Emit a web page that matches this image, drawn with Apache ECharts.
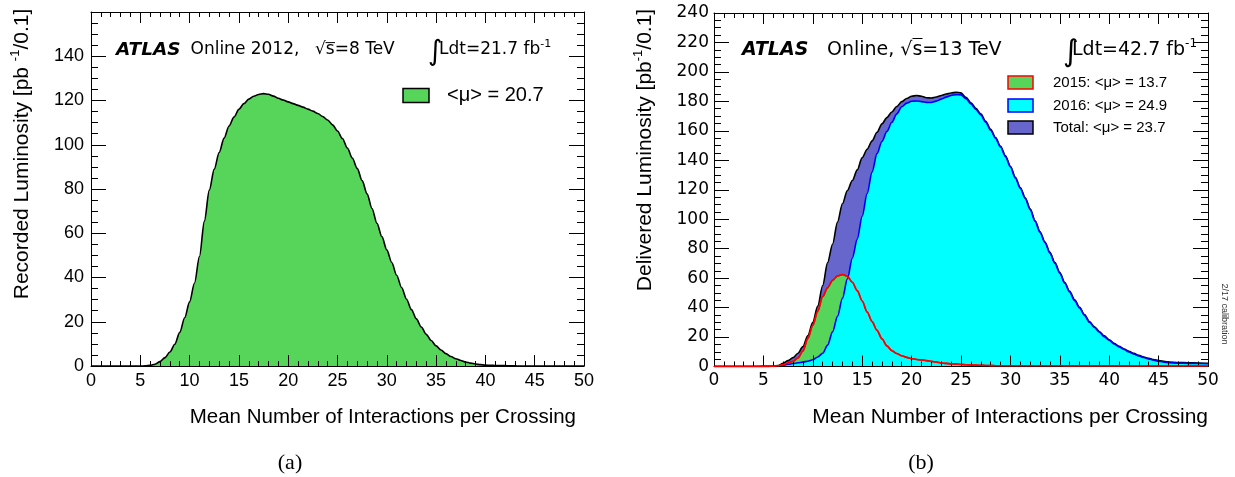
<!DOCTYPE html>
<html>
<head>
<meta charset="utf-8">
<script src="https://cdn.jsdelivr.net/npm/echarts@6/dist/echarts.min.js"></script>
<style>
  html, body { margin: 0; padding: 0; background: #fff; }
  #chart { width: 1235px; height: 477px; }
</style>
</head>
<body>
<div id="chart"></div>
<script>
// Mean number of interactions per crossing (bin centres shared by both panels)
const MU = [0, 1, 2, 3, 4,
  5, 5.5, 6, 6.5, 7, 7.5, 8, 8.5, 9, 9.5, 10, 10.5, 11, 11.5, 12, 12.5, 13, 13.5, 14, 14.5,
  15, 15.5, 16, 16.5, 17, 17.5, 18, 18.5, 19, 19.5, 20, 20.5, 21, 21.5, 22, 22.5, 23, 23.5, 24, 24.5,
  25, 25.5, 26, 26.5, 27, 27.5, 28, 28.5, 29, 29.5, 30, 30.5, 31, 31.5, 32, 32.5, 33, 33.5, 34, 34.5,
  35, 35.5, 36, 36.5, 37, 37.5, 38, 38.5, 39, 39.5, 40, 40.5, 41, 41.5, 42, 42.5, 43, 43.5, 44, 44.5,
  45, 46, 47, 48, 49, 50];

// (a) 2012 recorded luminosity [pb^-1 / 0.1]
const LUMI_2012 = [0, 0, 0, 0, 0,
  0, 0.05, 0.3, 0.8, 2.0, 3.8, 6.3, 9.8, 15.2, 21.8, 29.0, 37.5, 49.5, 65.5, 79.5, 89, 96.5, 103, 108.5, 112.5,
  116, 118.6, 120.6, 121.9, 122.7, 123.1, 122.8, 122, 121, 120.2, 119.4, 118.6, 117.8, 117, 116.1, 115.2, 114.1, 112.8, 111.2, 109,
  106.2, 102.8, 98.5, 94, 89.3, 83.8, 77.8, 71.2, 64.5, 58.5, 52.5, 46.8, 41, 35.5, 30.2, 25.5, 21.3, 17.6, 14.3, 11.5,
  9.1, 7.2, 5.6, 4.3, 3.3, 2.5, 1.8, 1.3, 0.9, 0.6, 0.4, 0.3, 0.25, 0.2, 0.15, 0.1, 0.05, 0, 0, 0,
  0, 0, 0, 0, 0, 0];

// (b) delivered luminosity [pb^-1 / 0.1]
const LUMI_2015 = [0, 0, 0, 0, 0,
  0.1, 0.1, 0.2, 0.5, 1.3, 2.4, 3.6, 5.8, 10.5, 19, 28, 37.5, 47.5, 53.5, 58.5, 61.5, 62.5, 61.2, 57.2, 51.5,
  44.5, 37, 30.5, 24.5, 18.8, 14, 10.8, 8.8, 7.3, 6.2, 5.3, 4.8, 4.4, 4.0, 3.5, 3.0, 2.4, 2.1, 1.8, 1.6,
  1.4, 1.2, 1.0, 0.9, 0.8, 0.7, 0.6, 0.55, 0.5, 0.5, 0.5, 0.5, 0.5, 0.5, 0.5, 0.5, 0.5, 0.5, 0.5, 0.5,
  0.5, 0.45, 0.45, 0.45, 0.4, 0.4, 0.4, 0.4, 0.4, 0.4, 0.4, 0.4, 0.4, 0.4, 0.4, 0.35, 0.35, 0.35, 0.35, 0.35,
  0.3, 0.3, 0.3, 0.3, 0.3, 0.3];

const LUMI_2016 = [0, 0, 0, 0, 0,
  0, 0, 0, 0.2, 0.8, 1.5, 2.0, 2.5, 3.0, 3.6, 4.6, 6.5, 9.0, 14.5, 23.5, 34, 46.3, 59.5, 73.5, 86.5,
  102, 117.5, 132, 144.5, 152.8, 159.5, 165.8, 171.5, 176.3, 178.8, 180.1, 180.3, 179.8, 179.3, 179.2, 180.2, 181.5, 182.9, 184, 184.6,
  184.4, 181.8, 178.3, 174.6, 170.8, 165.9, 160.4, 154.9, 149, 142.5, 135.5, 128, 121, 114.1, 106.5, 98.5, 91, 84, 77, 70,
  63.3, 56.5, 50.5, 44.7, 39.7, 34.7, 30, 26.5, 23.3, 20.3, 17.8, 15.3, 13.3, 11.5, 9.9, 8.5, 7.2, 6.1, 5.1, 4.3,
  3.6, 2.6, 2.3, 2.1, 2.0, 1.9];

const LUMI_TOTAL = [0, 0, 0, 0, 0,
  0.1, 0.1, 0.2, 0.6, 2.2, 4.0, 6.0, 9.0, 13.5, 21, 30, 41, 55, 70.5, 83, 98, 110.5, 119.5, 126.3, 133.5,
  141.8, 147.5, 153.2, 159, 164.7, 169, 172.8, 176.5, 179.8, 182, 183.5, 184, 183.5, 182.5, 182.3, 183, 184, 185, 185.7, 186.2,
  185.8, 182.7, 179.1, 175.3, 171.5, 166.5, 161, 155.4, 149.5, 143, 136, 128.5, 121.5, 114.6, 107, 99, 91.5, 84.5, 77.5, 70.5,
  63.8, 57, 51, 45.2, 40.2, 35.2, 30.5, 27, 23.8, 20.8, 18.2, 15.7, 13.7, 11.9, 10.3, 8.9, 7.6, 6.5, 5.5, 4.7,
  4.0, 3.0, 2.7, 2.5, 2.4, 2.2];

const X_TITLE = 'Mean Number of Interactions per Crossing';

const pairs = (ys) => MU.map((x, i) => [x, ys[i]]);

const SANS = '"Liberation Sans", Arial, sans-serif';
const DEJAVU = '"DejaVu Sans", sans-serif';

const GREEN = '#57d45a';
const CYAN = '#00ffff';
const PURPLE = '#6666cc';

// Frame axes are drawn above the filled histograms, ticks pointing inwards
function xAxes(grid, pos, labelFont) {
  return {
    gridIndex: grid, type: 'value', min: 0, max: 50, interval: 5, position: pos, z: 10,
    axisLine: { onZero: false, lineStyle: { color: '#000', width: 1 } },
    axisTick: { inside: true, length: 11, lineStyle: { color: '#000' } },
    minorTick: { show: true, splitNumber: 5, length: 5, lineStyle: { color: '#000' } },
    splitLine: { show: false },
    axisLabel: pos === 'bottom'
      ? { show: true, margin: 6, color: '#000', fontFamily: labelFont.family, fontSize: labelFont.size }
      : { show: false }
  };
}

function yAxes(grid, pos, max, labelFont, hideMax) {
  return {
    gridIndex: grid, type: 'value', min: 0, max: max, interval: 20, position: pos, z: 10,
    axisLine: { onZero: false, lineStyle: { color: '#000', width: 1 } },
    axisTick: { inside: true, length: 15, lineStyle: { color: '#000' } },
    minorTick: { show: true, splitNumber: 4, length: 7, lineStyle: { color: '#000' } },
    splitLine: { show: false },
    axisLabel: pos === 'left'
      ? { show: true, margin: labelFont.margin, color: '#000', fontFamily: labelFont.family, fontSize: labelFont.size,
          formatter: (v) => (hideMax && v === max) ? '' : String(v) }
      : { show: false }
  };
}

const fontA = { family: SANS, size: 18, margin: 7 };
const fontB = { family: DEJAVU, size: 17, margin: 5 };

function txt(x, y, text, font, opts) {
  return Object.assign({
    type: 'text', x: x, y: y, silent: true,
    style: Object.assign({
      text: text, font: font, fill: '#000',
      textAlign: 'left', textVerticalAlign: 'middle', align: 'left', verticalAlign: 'middle'
    }, (opts && opts.style) || {})
  }, (opts && opts.el) || {});
}

function box(x, y, w, h, fill, stroke) {
  return { type: 'rect', silent: true, shape: { x: x, y: y, width: w, height: h },
           style: { fill: fill, stroke: stroke, lineWidth: 1.5 } };
}

function supText(x, y, main, sup, tail, size, family, rotation, align) {
  return {
    type: 'text', x: x, y: y, rotation: rotation || 0, silent: true,
    style: {
      text: '{n|' + main + '}{s|' + sup + '}{n|' + tail + '}',
      textAlign: align || 'left', align: align || 'left',
      textVerticalAlign: 'middle', verticalAlign: 'middle',
      rich: {
        n: { fontFamily: family, fontSize: size, lineHeight: size + 6, fill: '#000', color: '#000' },
        s: { fontFamily: family, fontSize: Math.round(size * 0.62), lineHeight: Math.round(size * 0.62),
             verticalAlign: 'top', fill: '#000', color: '#000' }
      }
    }
  };
}

const chart = echarts.init(document.getElementById('chart'), null, { renderer: 'canvas' });

const option = {
  animation: false,
  backgroundColor: '#fff',
  grid: [
    { left: 91, top: 12, width: 493, height: 354, outerBoundsMode: 'none' },
    { left: 714, top: 13, width: 494, height: 353.5, outerBoundsMode: 'none' }
  ],
  xAxis: [
    xAxes(0, 'bottom', fontA), xAxes(0, 'top', fontA),
    xAxes(1, 'bottom', fontB), xAxes(1, 'top', fontB)
  ],
  yAxis: [
    yAxes(0, 'left', 160, fontA, true), yAxes(0, 'right', 160, fontA, true),
    yAxes(1, 'left', 240, fontB, false), yAxes(1, 'right', 240, fontB, false)
  ],
  series: [
    {
      name: '2012', type: 'line', xAxisIndex: 0, yAxisIndex: 0, data: pairs(LUMI_2012),
      showSymbol: false, smooth: 0.3, smoothMonotone: 'x',
      lineStyle: { color: '#000', width: 1.6 }, areaStyle: { color: GREEN, opacity: 1 }
    },
    {
      name: 'Total', type: 'line', xAxisIndex: 2, yAxisIndex: 2, data: pairs(LUMI_TOTAL),
      showSymbol: false, smooth: 0.3, smoothMonotone: 'x',
      lineStyle: { color: '#000', width: 1.6 }, areaStyle: { color: PURPLE, opacity: 1 }
    },
    {
      name: '2015 fill', type: 'line', xAxisIndex: 2, yAxisIndex: 2, data: pairs(LUMI_2015),
      showSymbol: false, smooth: 0.3, smoothMonotone: 'x',
      lineStyle: { color: '#ff0000', width: 1.6 }, areaStyle: { color: GREEN, opacity: 1 }
    },
    {
      name: '2016', type: 'line', xAxisIndex: 2, yAxisIndex: 2, data: pairs(LUMI_2016),
      showSymbol: false, smooth: 0.3, smoothMonotone: 'x',
      lineStyle: { color: '#0000ff', width: 1.6 }, areaStyle: { color: CYAN, opacity: 1 }
    },
    {
      // 2015 outline redrawn on top, including along the baseline
      name: '2015', type: 'line', xAxisIndex: 2, yAxisIndex: 2, data: pairs(LUMI_2015), z: 11,
      showSymbol: false, smooth: 0.3, smoothMonotone: 'x',
      lineStyle: { color: '#ff0000', width: 1.6 }
    }
  ],
  graphic: { elements: [
    // (a) header
    txt(116, 50, 'ATLAS', 'italic bold 18.5px ' + DEJAVU),
    txt(190.5, 50, 'Online 2012,', '17px ' + DEJAVU),
    txt(315, 50, '\u221As=8 TeV', '17px ' + DEJAVU),
    { type: 'line', silent: true, shape: { x1: 325.5, y1: 42.6, x2: 335, y2: 42.6 }, style: { stroke: '#000', lineWidth: 1 } },
    txt(428, 53, '\u222B', '28px ' + DEJAVU),
    supText(439, 50, 'Ldt=21.7 fb', '-1', '', 17, DEJAVU),
    box(403, 88.5, 26, 14, GREEN, '#000'),
    txt(447, 95.5, '<\u03BC> = 20.7', '20px ' + SANS),
    supText(22, 154, 'Recorded Luminosity [pb ', '-1', '/0.1]', 21, SANS, Math.PI / 2, 'center'),
    txt(576, 417, X_TITLE, '20.5px ' + SANS, { style: { textAlign: 'right', align: 'right' } }),
    txt(290, 463, '(a)', '22px "Liberation Serif", serif', { style: { textAlign: 'center', align: 'center' } }),

    // (b) header
    txt(742, 50, 'ATLAS', 'italic bold 19px ' + DEJAVU),
    txt(827, 50, 'Online, \u221As=13 TeV', '19px ' + DEJAVU),
    { type: 'line', silent: true, shape: { x1: 912.5, y1: 38.5, x2: 922.5, y2: 38.5 }, style: { stroke: '#000', lineWidth: 1 } },
    txt(1063, 53, '\u222B', '30px ' + DEJAVU),
    supText(1072, 50, 'Ldt=42.7 fb', '-1', '', 19, DEJAVU),
    box(1008, 76, 25, 13, GREEN, '#ff0000'),
    txt(1053, 82.5, '2015: <\u03BC> = 13.7', '15px ' + SANS),
    box(1008, 99, 25, 13, CYAN, '#0000ff'),
    txt(1053, 105.5, '2016: <\u03BC> = 24.9', '15px ' + SANS),
    box(1008, 121, 25, 13, PURPLE, '#000'),
    txt(1053, 127.5, 'Total: <\u03BC> = 23.7', '15px ' + SANS),
    supText(645, 150, 'Delivered Luminosity [pb', '-1', '/0.1]', 21, SANS, Math.PI / 2, 'center'),
    txt(1208, 417, X_TITLE, '21px ' + SANS, { style: { textAlign: 'right', align: 'right' } }),
    txt(921, 463, '(b)', '22px "Liberation Serif", serif', { style: { textAlign: 'center', align: 'center' } }),
    txt(1224, 314, '2/17 calibration', '9px ' + SANS, { el: { rotation: -Math.PI / 2 }, style: { textAlign: 'center', align: 'center', fill: '#333' } })
  ] }
};

chart.setOption(option);
</script>
</body>
</html>
